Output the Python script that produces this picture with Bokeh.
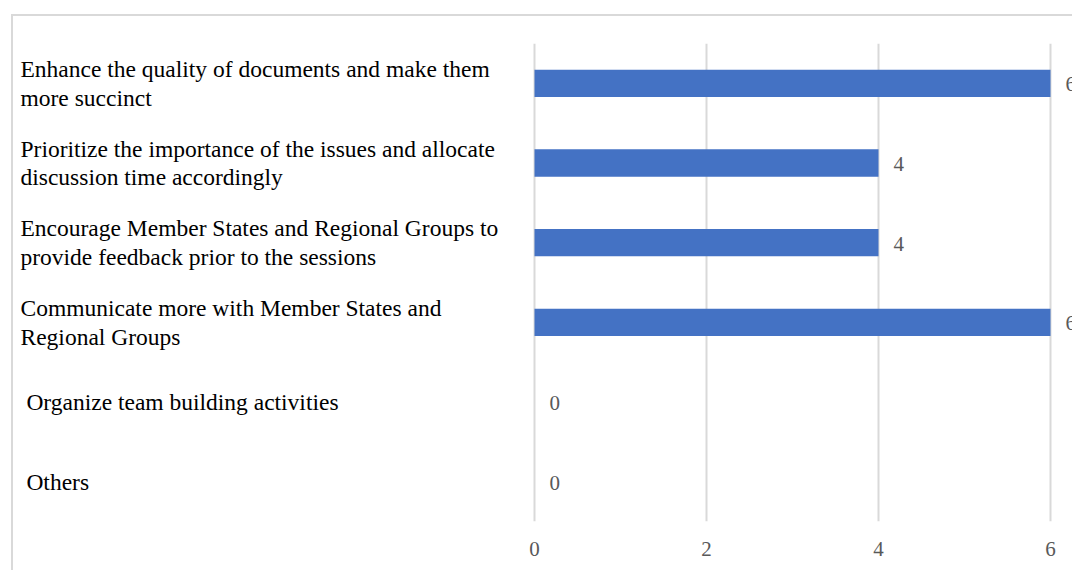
from bokeh.plotting import figure
from bokeh.models import FactorRange, Range1d, FixedTicker, ColumnDataSource
from bokeh.core.properties import value
from bokeh.embed import file_html
from bokeh.resources import INLINE

categories = ["enhance", "prioritize", "encourage", "communicate", "teambuilding", "others"]
labels = [
    "Enhance the quality of documents and make them\nmore succinct",
    "Prioritize the importance of the issues and allocate\ndiscussion time accordingly",
    "Encourage Member States and Regional Groups to\nprovide feedback prior to the sessions",
    "Communicate more with Member States and\nRegional Groups",
    "\u00a0Organize team building activities",
    "\u00a0Others",
]
values = [6, 4, 4, 6, 0, 0]
ticks = [0, 2, 4, 6]

FONT = "Liberation Serif"
PX_PER_UNIT = 86.0
PAGE_W, PAGE_H = 1074, 572
BOX_LEFT, BOX_TOP, BORDER = 11, 14, 2
W = PAGE_W - BOX_LEFT - BORDER
H = PAGE_H - BOX_TOP - BORDER
ZERO_PX = 534 - BOX_LEFT - BORDER

src = ColumnDataSource(dict(cat=categories, label=labels, val=values,
                            val_str=[str(v) for v in values]))

x_start = -ZERO_PX / PX_PER_UNIT
x_end = (W - ZERO_PX) / PX_PER_UNIT

p = figure(width=W, height=H, output_backend="svg", toolbar_location=None,
           y_range=FactorRange(factors=list(reversed(categories))),
           x_range=Range1d(x_start, x_end),
           y_axis_location=None, x_axis_location="below",
           min_border_left=0, min_border_right=0,
           min_border_top=43 - BOX_TOP - BORDER,
           min_border_bottom=PAGE_H - 521)
p.styles = {
    "border-top": f"{BORDER}px solid #d9d9d9",
    "border-left": f"{BORDER}px solid #d9d9d9",
    "margin-left": f"{BOX_LEFT}px",
    "margin-top": f"{BOX_TOP}px",
}
p.outline_line_color = None
p.background_fill_color = "white"
p.border_fill_color = "white"

p.ygrid.visible = False
p.xgrid.ticker = FixedTicker(ticks=ticks)
p.xgrid.grid_line_color = "#d9d9d9"
p.xgrid.grid_line_width = 2

p.xaxis.ticker = FixedTicker(ticks=ticks)
p.xaxis.axis_line_color = None
p.xaxis.major_tick_line_color = None
p.xaxis.minor_tick_line_color = None
p.xaxis.major_label_text_font = FONT
p.xaxis.major_label_text_font_size = "21px"
p.xaxis.major_label_text_color = "#595959"
p.xaxis.major_label_standoff = 14

p.hbar(y="cat", left=0, right="val", height=0.344, source=src,
       fill_color="#4472C4", line_color=None)

p.text(x=x_start, y="cat", text="label", source=src, x_offset=20 - BOX_LEFT - BORDER, y_offset=0,
       text_font=value(FONT), text_font_size="23.5px", text_color="#000000",
       text_align="left", text_baseline="middle", text_line_height=1.1)

p.text(x="val", y="cat", text="val_str", source=src, x_offset=15, y_offset=1,
       text_font=value(FONT), text_font_size="21px", text_color="#595959",
       text_align="left", text_baseline="middle")

open("out.html", "w").write(file_html(p, INLINE))
